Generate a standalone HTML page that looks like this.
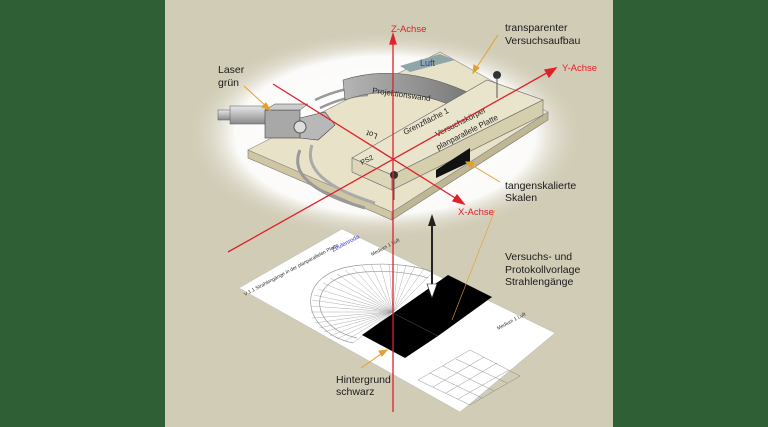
<!DOCTYPE html>
<html><head><meta charset="utf-8"><style>
html,body{margin:0;padding:0;width:768px;height:427px;overflow:hidden;background:#2f5f35}
svg{display:block}
text{font-family:"Liberation Sans",Arial,sans-serif}
</style></head><body>
<svg width="768" height="427" viewBox="0 0 768 427" xmlns="http://www.w3.org/2000/svg">
<defs>
<radialGradient id="glow" cx="0.5" cy="0.5" r="0.5">
<stop offset="0" stop-color="#ffffff"/><stop offset="0.75" stop-color="#ffffff" stop-opacity="0.92"/><stop offset="1" stop-color="#d1ccb6" stop-opacity="0"/>
</radialGradient>
<linearGradient id="wall" x1="0" y1="0" x2="1" y2="0"><stop offset="0" stop-color="#b5b5b5"/><stop offset="1" stop-color="#7a7a7a"/></linearGradient>
<linearGradient id="cyl" x1="0" y1="0" x2="0" y2="1"><stop offset="0" stop-color="#e8e8e8"/><stop offset="1" stop-color="#8a8a8a"/></linearGradient>
</defs>
<rect x="0" y="0" width="768" height="427" fill="#2f5f35"/>
<rect x="165" y="0" width="448" height="427" fill="#d1ccb6"/>
<ellipse cx="385" cy="135" rx="200" ry="105" fill="url(#glow)"/>
<!-- plate -->
<polygon points="248,150 392,212 392,220 248,158" fill="#cfc7a4" stroke="#777" stroke-width="0.6"/>
<polygon points="392,212 548,112 548,120 392,220" fill="#bfb793" stroke="#777" stroke-width="0.6"/>
<polygon points="248,150 440,52 548,112 392,212" fill="#e8e2c8" stroke="#888" stroke-width="0.6"/>
<!-- rails -->
<path d="M300,150 Q285,185 365,208" fill="none" stroke="#999" stroke-width="3"/>
<path d="M312,145 Q300,180 375,203" fill="none" stroke="#aaa" stroke-width="3"/>
<path d="M315,100 Q340,88 372,85" fill="none" stroke="#999" stroke-width="2.5"/>
<path d="M320,108 Q345,96 368,95" fill="none" stroke="#999" stroke-width="2.5"/>
<!-- projection wall -->
<path d="M343,80 Q400,62 467,92 L467,112 Q400,80 345,100 Z" fill="url(#wall)" stroke="#555" stroke-width="0.6"/>
<polygon points="400,66 440,54 455,60 410,72" fill="#8fa6a8"/>
<text x="420" y="66" font-size="9" fill="#2a3fa0" font-family="Liberation Serif,serif">Luft</text>
<text x="372" y="93" font-size="8" fill="#222" transform="rotate(8 372 93)" font-family="Liberation Serif,serif">Projektionswand</text>
<!-- glass block -->
<polygon points="352,158 487,80 543,100 392,175" fill="#e9e4cc" stroke="#666" stroke-width="0.6"/>
<polygon points="352,158 392,175 392,190 352,172" fill="#ddd6b8" stroke="#666" stroke-width="0.6"/>
<polygon points="392,175 543,100 543,115 392,190" fill="#d6cfae" stroke="#666" stroke-width="0.6"/>
<polygon points="436,170 470,148 470,162 436,178" fill="#111"/>
<text x="405" y="135" font-size="8" fill="#222" transform="rotate(-27 405 135)" font-family="Liberation Serif,serif">Grenzfläche 1</text>
<text x="437" y="137" font-size="8" fill="#222" transform="rotate(-27 437 137)" font-family="Liberation Serif,serif">Versuchskörper</text>
<text x="438" y="150" font-size="8" fill="#222" transform="rotate(-27 438 150)" font-family="Liberation Serif,serif">planparallele Platte</text>
<text x="362" y="165" font-size="7" fill="#222" transform="rotate(-27 362 165)" font-family="Liberation Serif,serif">PS2</text>
<text x="378" y="134" font-size="8" fill="#222" transform="rotate(200 378 134)" font-family="Liberation Serif,serif">Lot</text>
<circle cx="394" cy="175" r="4" fill="#333"/><circle cx="497" cy="75" r="4" fill="#333"/>
<line x1="394" y1="178" x2="394" y2="200" stroke="#555"/><line x1="497" y1="78" x2="497" y2="98" stroke="#555"/>
<!-- laser -->
<rect x="218" y="110" width="14" height="10" fill="url(#cyl)" stroke="#555" stroke-width="0.5"/>
<rect x="230" y="106" width="36" height="18" fill="url(#cyl)" stroke="#555" stroke-width="0.5"/>
<rect x="265" y="110" width="35" height="28" fill="#a8a8a8" stroke="#444" stroke-width="0.6"/>
<polygon points="265,110 275,104 308,104 300,110" fill="#ccc" stroke="#444" stroke-width="0.5"/>
<polygon points="300,118 325,112 335,125 318,140 300,138" fill="#b8b8b8" stroke="#444" stroke-width="0.6"/>
<circle cx="300" cy="127" r="6" fill="#ddd" stroke="#555"/>
<!-- paper -->
<polygon points="239,288 342,229 555,333 460,412" fill="#ffffff" stroke="#bbb" stroke-width="0.5"/>
<g fill="none" stroke="#999" stroke-width="0.7">
<path d="M353,343 C300,332 290,270 362,265 C395,262 420,267 433,272"/>
<path d="M357,338 C310,328 302,277 364,272 C393,270 415,274 428,278"/>
</g>
<g stroke="#999" stroke-width="0.4">
<line x1="393" y1="312" x2="433" y2="272"/><line x1="393" y1="312" x2="424" y2="269"/><line x1="393" y1="312" x2="415" y2="266"/>
<line x1="393" y1="312" x2="406" y2="265"/><line x1="393" y1="312" x2="398" y2="264"/><line x1="393" y1="312" x2="389" y2="264"/>
<line x1="393" y1="312" x2="380" y2="264"/><line x1="393" y1="312" x2="371" y2="265"/><line x1="393" y1="312" x2="362" y2="266"/>
<line x1="393" y1="312" x2="353" y2="268"/><line x1="393" y1="312" x2="345" y2="270"/><line x1="393" y1="312" x2="337" y2="274"/>
<line x1="393" y1="312" x2="330" y2="278"/><line x1="393" y1="312" x2="323" y2="283"/><line x1="393" y1="312" x2="318" y2="289"/>
<line x1="393" y1="312" x2="314" y2="295"/><line x1="393" y1="312" x2="312" y2="300"/><line x1="393" y1="312" x2="311" y2="306"/>
<line x1="393" y1="312" x2="311" y2="312"/><line x1="393" y1="312" x2="312" y2="318"/><line x1="393" y1="312" x2="315" y2="323"/>
<line x1="393" y1="312" x2="319" y2="328"/><line x1="393" y1="312" x2="324" y2="332"/><line x1="393" y1="312" x2="330" y2="336"/>
<line x1="393" y1="312" x2="337" y2="339"/><line x1="393" y1="312" x2="345" y2="341"/><line x1="393" y1="312" x2="353" y2="343"/>
</g>
<polygon points="362,335 448,275 492,297 438,336 405,358" fill="#000"/>
<line x1="393" y1="313" x2="438" y2="336" stroke="#555" stroke-width="0.5"/>
<g stroke="#777" stroke-width="0.4" fill="none">
<polygon points="418,380 470,350 520,376 470,405"/>
<line x1="430" y1="373" x2="482" y2="398"/><line x1="443" y1="366" x2="494" y2="391"/><line x1="456" y1="359" x2="507" y2="383"/>
<line x1="433" y1="387" x2="484" y2="357"/><line x1="446" y1="393" x2="497" y2="363"/><line x1="458" y1="399" x2="509" y2="370"/>
</g>
<text x="245" y="296" font-size="5" fill="#333" transform="rotate(-28 245 296)">V 1.1 Strahlengänge in der planparallelen Platte</text>
<text x="333" y="252" font-size="6" fill="#3a3ad0" transform="rotate(-28 333 252)">Zeulenroda</text>
<text x="372" y="256" font-size="5" fill="#333" transform="rotate(-28 372 256)">Medium 1 Luft</text>
<text x="498" y="330" font-size="5" fill="#333" transform="rotate(-28 498 330)">Medium 1 Luft</text>
<!-- axes -->
<g stroke="#e0202a" stroke-width="1.3" fill="#e0202a">
<line x1="393" y1="38" x2="393" y2="412"/><polygon points="393,34 390,44 396,44"/>
<line x1="228" y1="252" x2="552" y2="70"/><polygon points="556,68 545,70 549,77"/>
<line x1="273" y1="84" x2="460" y2="201"/><polygon points="464,204 453,201 457,195"/>
</g>
<text x="391" y="32" font-size="9.5" fill="#e0202a">Z-Achse</text>
<text x="562" y="71" font-size="9.5" fill="#e0202a">Y-Achse</text>
<text x="458" y="215" font-size="9.5" fill="#e0202a">X-Achse</text>
<!-- black arrow -->
<line x1="432" y1="220" x2="432" y2="288" stroke="#222" stroke-width="2"/>
<polygon points="432,214 428,226 436,226" fill="#222"/>
<polygon points="432,298 427,284 437,284" fill="#fff" stroke="#222" stroke-width="0.6"/>
<!-- leaders -->
<g stroke="#e3a030" stroke-width="1" fill="#e3a030">
<line x1="475" y1="70" x2="498" y2="35"/><polygon points="473,73 474,65 479,68"/>
<line x1="244" y1="86" x2="268" y2="108"/><polygon points="270,110 262,107 266,103"/>
<line x1="500" y1="182" x2="470" y2="164"/><polygon points="466,162 474,162 471,168"/>
<line x1="495" y1="210" x2="452" y2="320" stroke-width="0.6"/>
<line x1="361" y1="368" x2="384" y2="352"/><polygon points="387,350 379,351 382,356"/>
</g>
<!-- labels -->
<g font-size="10.5" fill="#1a1a1a">
<text x="218" y="73">Laser</text><text x="218" y="86">grün</text>
<text x="505" y="31">transparenter</text><text x="505" y="44">Versuchsaufbau</text>
<text x="505" y="189">tangenskalierte</text><text x="505" y="201">Skalen</text>
<text x="505" y="260">Versuchs- und</text><text x="505" y="273">Protokollvorlage</text><text x="505" y="285">Strahlengänge</text>
<text x="336" y="383">Hintergrund</text><text x="336" y="395">schwarz</text>
</g>
</svg>
</body></html>
